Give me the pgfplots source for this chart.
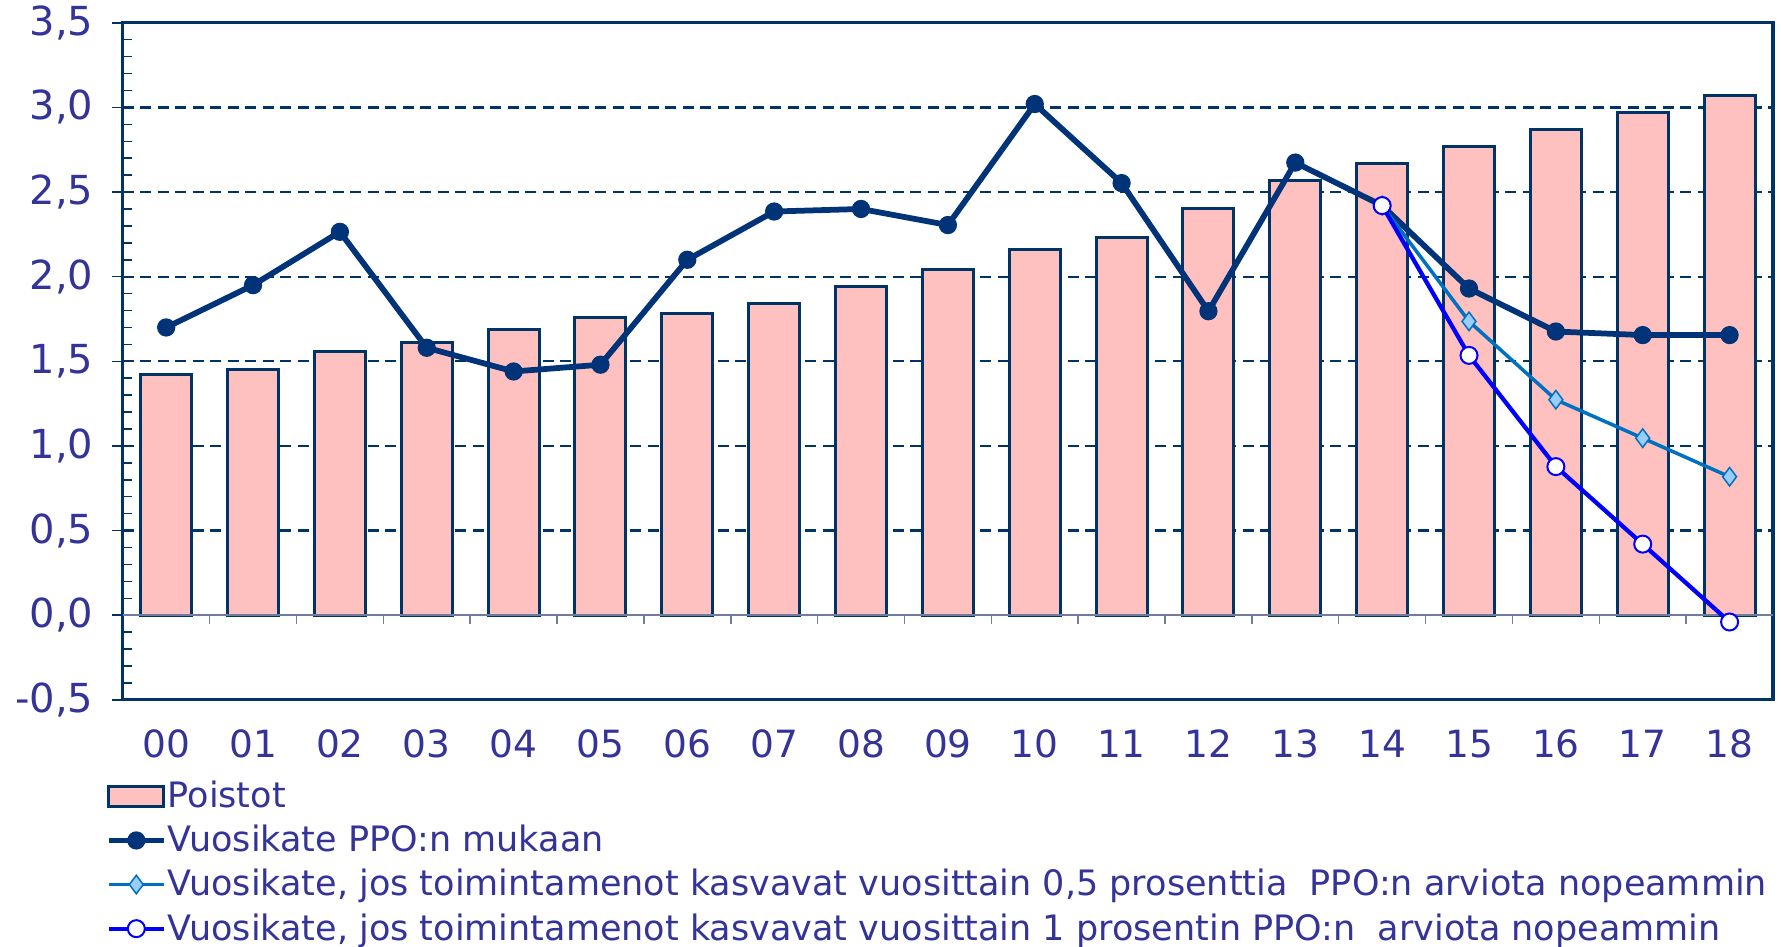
\documentclass[border=0pt]{standalone}
\usepackage{fontspec}
\setmainfont{DejaVu Sans}
\usepackage{pgfplots}
\pgfplotsset{compat=1.18}
\definecolor{navy}{RGB}{0,51,102}
\definecolor{txt}{RGB}{51,51,153}
\definecolor{pinkbar}{RGB}{255,192,192}
\definecolor{lineone}{RGB}{0,51,120}
\definecolor{linetwo}{RGB}{0,112,192}
\definecolor{difill}{RGB}{153,204,255}
\definecolor{linethree}{RGB}{0,0,255}
\definecolor{zeroline}{RGB}{110,125,160}

\pgfplotstableread{
x poistot vk vk05 vk1
0  1.42 1.70 nan nan
1  1.45 1.95 nan nan
2  1.56 2.265 nan nan
3  1.61 1.58 nan nan
4  1.69 1.44 nan nan
5  1.76 1.48 nan nan
6  1.78 2.10 nan nan
7  1.84 2.385 nan nan
8  1.94 2.40 nan nan
9  2.04 2.305 nan nan
10 2.16 3.02 nan nan
11 2.23 2.553 nan nan
12 2.40 1.796 nan nan
13 2.57 2.674 nan nan
14 2.67 2.42 2.42 2.42
15 2.77 1.93 1.736 1.535
16 2.87 1.676 1.273 0.878
17 2.97 1.655 1.046 0.42
18 3.07 1.655 0.818 -0.04
}\datatable

\begin{document}
\begin{tikzpicture}
\useasboundingbox (-49.1pt,-98.8pt) rectangle (663.2pt,279.9pt);
\begin{axis}[
  scale only axis, width=660pt, height=270.8pt,
  xmin=-0.5, xmax=18.5, ymin=-0.5, ymax=3.5,
  xtick={0,...,18},
  xticklabels={00,01,02,03,04,05,06,07,08,09,10,11,12,13,14,15,16,17,18},
  x tick style={draw=none},
  xticklabel style={anchor=base, yshift=-18.5pt, font=\fontsize{15}{18}\selectfont, text=txt},
  ytick={-0.5,0,...,3.5},
  minor y tick num=4,
  ytick pos=left,
  tick align=outside,
  major tick length=4.5pt,
  minor tick length=3.6pt,
  minor y tick style={xshift=3.6pt},
  y tick style={navy, line width=0.6pt},
  yticklabel style={font=\fontsize{16}{19}\selectfont, text=txt, xshift=-3.8pt},
  /pgf/number format/.cd, use comma, fixed, fixed zerofill, precision=1, assume math mode=true,
  /pgfplots/.cd,
  extra y ticks={0.5,1,1.5,2,2.5,3},
  extra y tick labels={},
  extra y tick style={ymajorgrids=true, major tick length=0pt},
  major grid style={navy, line width=0.9pt, dash pattern=on 4.4pt off 2.6pt},
  axis line style={navy, line width=1.3pt},
  legend style={at={(-0.0105,-0.112)}, anchor=north west, draw=none, fill=none,
    font=\fontsize{14}{17}\selectfont, text=txt, inner sep=0pt, row sep=1.5pt,
    cells={anchor=west}, nodes={inner xsep=0.4pt}},
  legend cell align=left,
  legend image code/.code={\draw[#1, mark repeat=2, mark phase=2] plot coordinates {(0pt,0pt) (11pt,0pt) (22pt,0pt)};},
]
\addplot[ybar, bar width=20.4pt, fill=pinkbar, draw=navy, line width=1.2pt,
  legend image code/.code={\draw[fill=pinkbar, draw=navy, line width=1.2pt] (0pt,-4pt) rectangle (22pt,4pt);}]
  table[x=x, y=poistot] {\datatable};
\addlegendentry{Poistot}
\draw[zeroline, line width=0.7pt] (axis cs:-0.5,0) -- (axis cs:18.5,0);
\pgfplotsinvokeforeach{0.5,1.5,2.5,3.5,4.5,5.5,6.5,7.5,8.5,9.5,10.5,11.5,12.5,13.5,14.5,15.5,16.5,17.5}{
  \draw[zeroline, line width=0.6pt] (axis cs:#1,0) -- ++(0pt,-3.6pt);
}
\addplot[lineone, line width=2.3pt, mark=*, mark size=3.4pt, mark options={fill=lineone, draw=lineone, line width=0.5pt}]
  table[x=x, y=vk] {\datatable};
\addlegendentry{Vuosikate PPO:n mukaan}
\addplot[linetwo, line width=1.4pt, mark=diamond*, mark size=3.7pt, mark options={fill=difill, draw=linetwo, line width=0.6pt}, unbounded coords=discard]
  table[x=x, y=vk05] {\datatable};
\addlegendentry{Vuosikate, jos toimintamenot kasvavat vuosittain 0,5 prosenttia \ PPO:n arviota nopeammin}
\addplot[linethree, line width=1.7pt, mark=*, mark size=3.4pt, mark options={fill=white, draw=linethree, line width=0.8pt}, unbounded coords=discard]
  table[x=x, y=vk1] {\datatable};
\addlegendentry{Vuosikate, jos toimintamenot kasvavat vuosittain 1 prosentin PPO:n \ arviota nopeammin}
\end{axis}
\end{tikzpicture}
\end{document}
